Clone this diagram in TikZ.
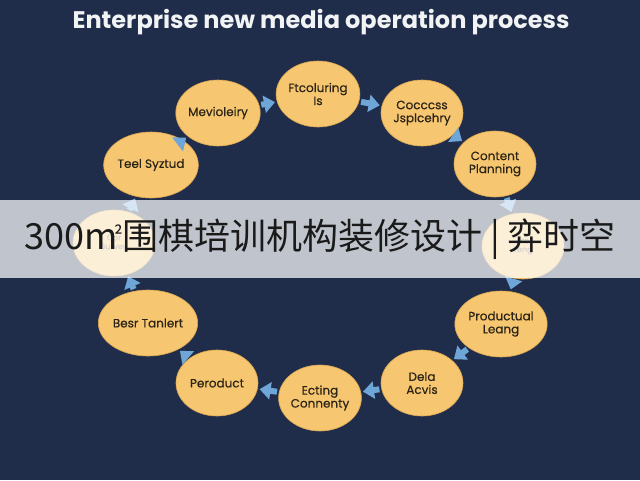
\documentclass[tikz,border=0pt]{standalone}
\usepackage{fontspec}
\setmainfont{Poppins}
\newfontfamily\cjkfont{Noto Sans CJK SC}
\newfontfamily\stagefont{Poppins}[FakeBold=0.4]
\usetikzlibrary{arrows.meta,shapes.geometric}
\definecolor{bgnavy}{HTML}{1F2D4B}
\definecolor{stagefill}{HTML}{F6C670}
\definecolor{stageline}{HTML}{D9A550}
\definecolor{arrowblue}{HTML}{6FA6D8}
\definecolor{stagetext}{HTML}{2B2416}
\definecolor{bannertext}{HTML}{1A1A1A}
\begin{document}
\begin{tikzpicture}[x=1pt,y=-1pt,
  stage/.style={ellipse, fill=stagefill, draw=stageline, line width=0.6pt,
    minimum width=82pt, minimum height=66pt, inner sep=0pt, align=center,
    font=\stagefont\fontsize{12}{13}\selectfont, text=stagetext},
  flow/.style={draw=arrowblue, line width=6pt,
    -{Triangle[width=17pt,length=11pt]}, shorten <=2pt, shorten >=2pt},
  hidden/.style={stage, font=\stagefont\fontsize{8}{9}\selectfont, text=stagetext!70}]
\fill[bgnavy] (0,0) rectangle (640,480);
\useasboundingbox (0,0) rectangle (640,480);

\node[font=\fontsize{24}{28}\selectfont\bfseries, text=white!94!bgnavy] (title) at (321,22) {Enterprise new media operation process};

\node[stage] (ftc) at (318,94) {Ftcoluring\\Is};
\node[stage] (coc) at (422,113) {Cocccss\\Jsplcehry};
\node[stage] (con) at (495,164) {Content\\Planning};
\node[hidden] (rgt) at (523,246) {Fre\\Leng};
\node[stage] (pro) at (501,324) {Productual\\Leang};
\node[stage] (dela) at (422,383) {Dela\\Acvis};
\node[stage] (ect) at (320,398) {Ecting\\Connenty};
\node[stage] (per) at (217,383) {Peroduct};
\node[stage] (best) at (148,323) {Besr Tanlert};
\node[hidden] (lft) at (114,243) {Cor\\Survey};
\node[stage] (teel) at (151,165) {Teel Syztud};
\node[stage] (mev) at (218,113) {Mevioleiry};

\draw[flow] (mev) -- (ftc);
\draw[flow] (ftc) -- (coc);
\draw[flow] (coc) -- (con);
\draw[flow] (con) -- (rgt);
\draw[flow] (rgt) -- (pro);
\draw[flow] (pro) -- (dela);
\draw[flow] (dela) -- (ect);
\draw[flow] (ect) -- (per);
\draw[flow] (per) -- (best);
\draw[flow] (best) -- (lft);
\draw[flow] (lft) -- (teel);
\draw[flow] (teel) -- (mev);

\node[fill=white, fill opacity=0.72, text opacity=1, minimum width=640pt,
  minimum height=78pt, inner sep=0pt, text=bannertext,
  font=\cjkfont\fontsize{36}{40}\selectfont] (banner) at (320,239)
  {300m\kern-3pt\raisebox{6pt}{\fontsize{21}{21}\selectfont ²}\kern-1pt 围棋培训机构装修设计 | 弈时空};
\end{tikzpicture}
\end{document}
